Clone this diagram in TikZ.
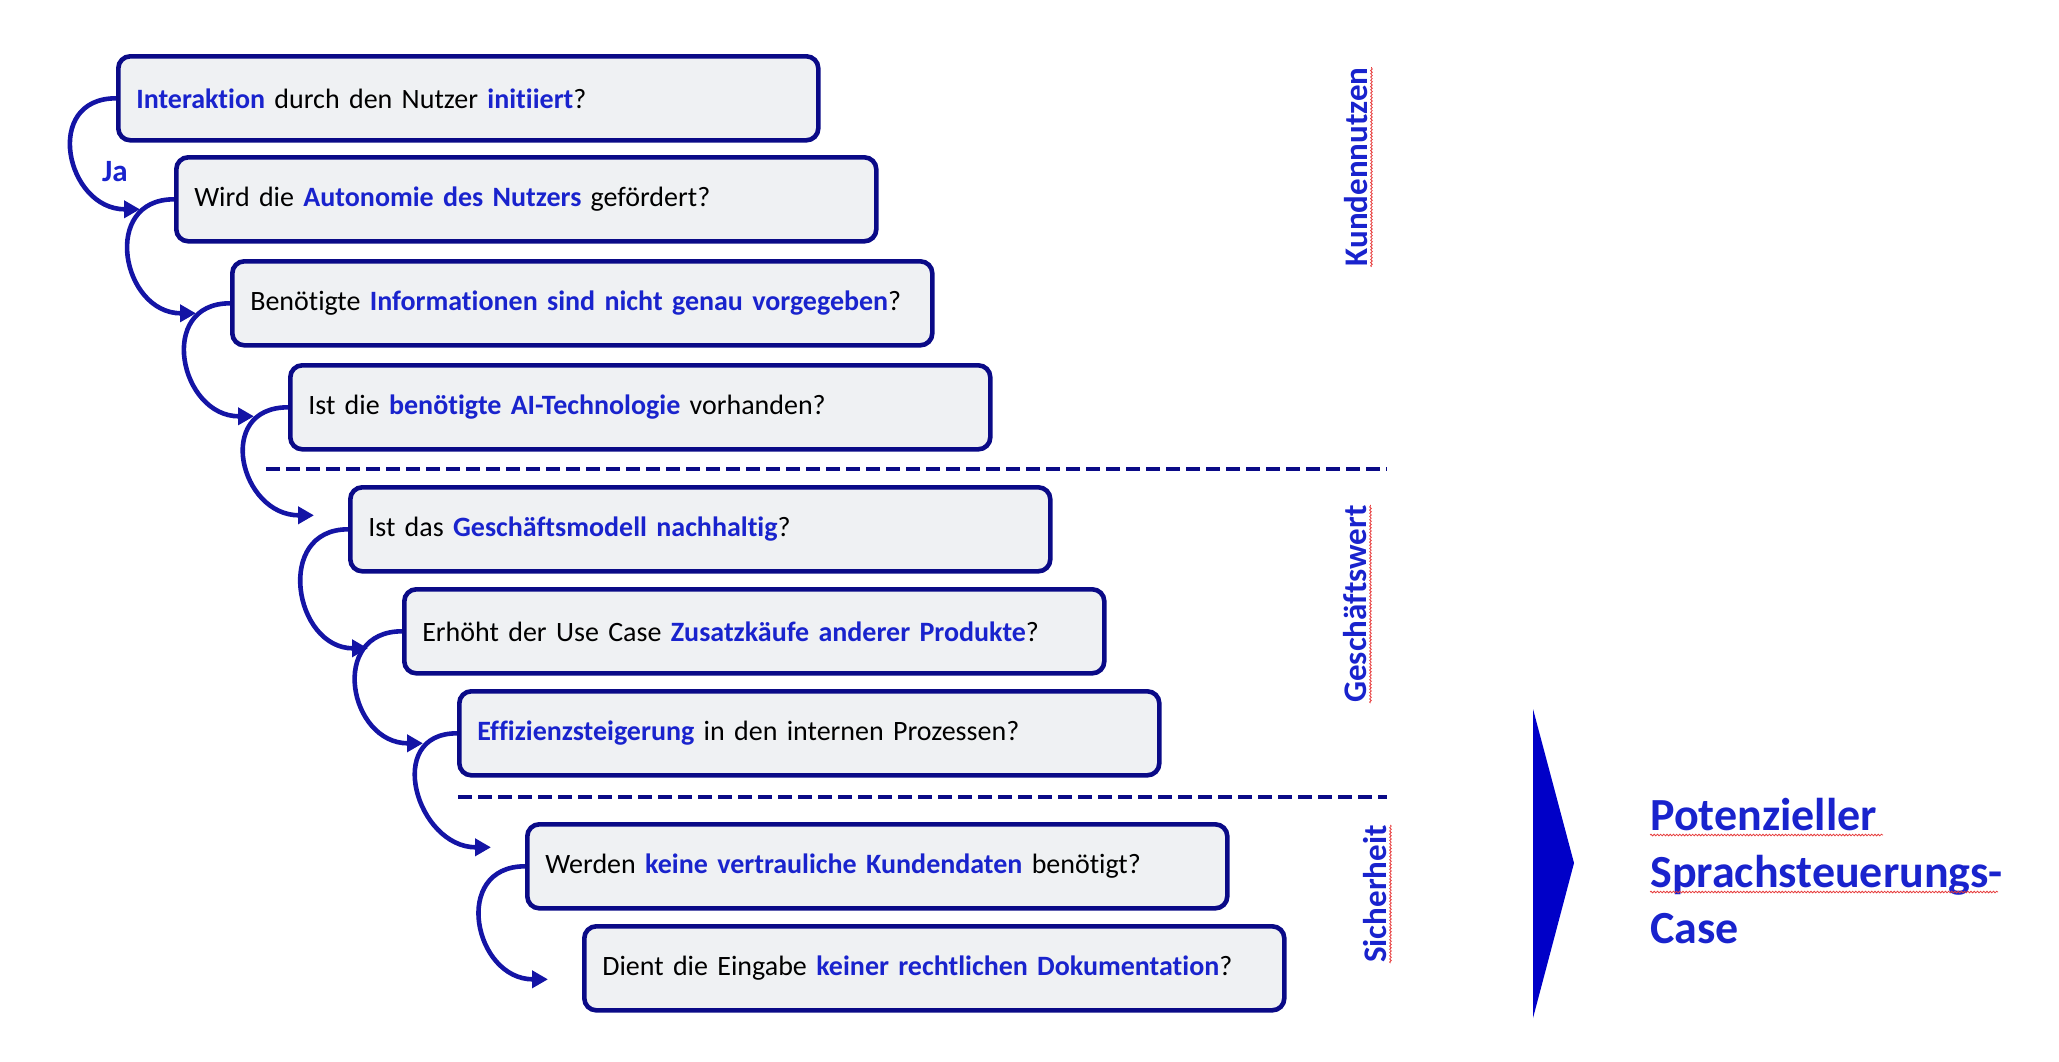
\documentclass[tikz,border=0pt]{standalone}
\usepackage{fontspec}
\setmainfont{Carlito}[Ligatures=NoCommon]
\usepackage{xcolor}
\usepackage{tikz}
\usetikzlibrary{arrows.meta}
\usetikzlibrary{calc}
\usetikzlibrary{decorations.pathmorphing}

\definecolor{boxline}{RGB}{10,10,135}
\definecolor{boxfill}{RGB}{239,241,243}
\definecolor{keyblue}{RGB}{25,35,205}
\definecolor{flowblue}{RGB}{20,20,165}
\definecolor{triblue}{RGB}{0,0,200}
\definecolor{spellred}{RGB}{230,60,60}

\newcommand{\kw}[1]{\textbf{\color{keyblue}#1}}

\begin{document}
\begin{tikzpicture}[x=0.5pt,y=-0.5pt,>={Triangle[length=8pt,width=8.5pt]},
    question/.style={rectangle,rounded corners=6pt,draw=boxline,fill=boxfill,line width=2.3pt,
      minimum width=350pt,minimum height=42pt,text width=332pt,inner xsep=9pt,align=left,
      anchor=north west,font=\fontsize{14}{17}\selectfont},
    flow/.style={->,draw=flowblue,line width=2.3pt},
    divider/.style={draw=boxline,line width=2.3pt,dash pattern=on 7pt off 3pt},
    section/.style={rotate=90,inner sep=0pt,text=keyblue,font=\fontsize{16.5}{20}\selectfont\bfseries},
    answer/.style={inner sep=0pt,text=keyblue,font=\fontsize{15.5}{18}\selectfont\bfseries},
    result/.style={anchor=north west,inner sep=0pt,align=left,text=keyblue,
      font=\fontsize{23}{28.25}\selectfont\bfseries},
    spell/.style={draw=spellred,line width=0.4pt,decorate,
      decoration={snake,amplitude=0.4pt,segment length=1.6pt}}]

  \useasboundingbox (0,0) rectangle (2059,1061);

  % questions
  \node[question] (q1) at (116,54) {\kw{Interaktion} durch den Nutzer \kw{initiiert}?};
  \node[question] (q2) at (174,155) {Wird die \kw{Autonomie des Nutzers} gefördert?};
  \node[question] (q3) at (230,259) {Benötigte \kw{Informationen sind nicht genau vorgegeben}?};
  \node[question] (q4) at (288,363) {Ist die \kw{benötigte AI-Technologie} vorhanden?};
  \node[question] (q5) at (348,485) {Ist das \kw{Geschäftsmodell nachhaltig}?};
  \node[question] (q6) at (402,587) {Erhöht der Use Case \kw{Zusatzkäufe anderer Produkte}?};
  \node[question] (q7) at (457,689) {\kw{Effizienzsteigerung} in den internen Prozessen?};
  \node[question] (q8) at (525,822) {Werden \kw{keine vertrauliche Kundendaten} benötigt?};
  \node[question] (q9) at (582,924) {Dient die Eingabe \kw{keiner rechtlichen Dokumentation}?};

  \node[answer] (ja) at (115,172) {Ja};

  % flow
  \foreach \a/\b/\dy in {q1/q2/10,q2/q3/10,q3/q4/9,q4/q5/-14,q5/q6/17,q6/q7/10,q7/q8/-19,q8/q9/11}
    \draw[flow] (\a.west) .. controls +(-74,0) and +(-74,0) .. ($(\b.west)+(-34,\dy)$);

  % sections
  \draw[divider] (266,469) -- (1387,469);
  \draw[divider] (458,797) -- (1387,797);
  \node[section] (kn) at (1356,167) {Kundennutzen};
  \node[section] (gw) at (1355,604) {Geschäftswert};
  \node[section] (sh) at (1375,894) {Sicherheit};
  \foreach \s in {kn,gw,sh}
    \draw[spell] ([xshift=2pt]\s.base west) -- ([xshift=2pt]\s.base east);

  % result
  \fill[triblue] (1533,709) -- (1574,863) -- (1533,1018) -- cycle;
  \node[result] (pc) at (1650,798) {Potenzieller\\Sprachsteuerungs-\\Case};
  \draw[spell] ($(pc.north west)+(0,37)$) -- +(233,0);
  \draw[spell] ($(pc.north west)+(0,94)$) -- +(348,0);
\end{tikzpicture}
\end{document}
